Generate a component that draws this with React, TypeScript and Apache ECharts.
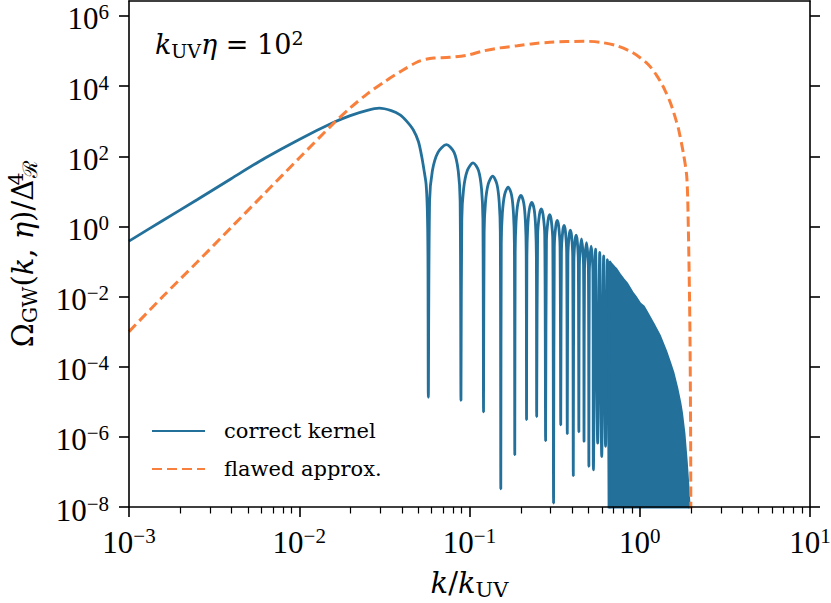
import React, { useEffect, useRef } from 'react';
import * as echarts from 'echarts';

// ---- tick positions ----
const X_MAJOR_TICKS = [1e-3, 1e-2, 1e-1, 1, 10];
const X_MINOR_TICKS = [
  0.002, 0.003, 0.004, 0.005, 0.006, 0.007, 0.008, 0.009,
  0.02, 0.03, 0.04, 0.05, 0.06, 0.07, 0.08, 0.09,
  0.2, 0.3, 0.4, 0.5, 0.6, 0.7, 0.8, 0.9,
  2, 3, 4, 5, 6, 7, 8, 9,
];
const Y_MAJOR_TICKS = [1e-8, 1e-6, 1e-4, 1e-2, 1, 1e2, 1e4, 1e6];

// ---- correct kernel: smooth rise up to the first zero ----
const KERNEL_RISE: [number, number][] = [
  [0.001, 0.38], [0.00158, 1.48], [0.00251, 5.75], [0.00398, 22.9],
  [0.00631, 89], [0.01, 302], [0.01585, 912], [0.01995, 1445],
  [0.0251, 2042], [0.0295, 2344], [0.0347, 1995], [0.0391, 1514],
  [0.0427, 1000], [0.0468, 562], [0.0501, 263], [0.0524, 98],
  [0.0543, 35], [0.0556, 16], [0.0565, 3.2], [0.057, 0.16],
  [0.0573, 1.35e-5],
];

// ---- correct kernel: separated oscillation lobes ----
const KERNEL_LOBES: [number, number][] = [
  [0.0583, 5.4], [0.0605, 38], [0.0653, 129], [0.0732, 214], [0.0812, 129], [0.0859, 38], [0.0881, 5.4], [0.0891, 1.1e-5],
  [0.0901, 1.6], [0.0923, 11.5], [0.0971, 39], [0.105, 65], [0.113, 39], [0.1177, 11.5], [0.1199, 1.6], [0.1209, 5.2e-6],
  [0.1219, 0.68], [0.1241, 4.8], [0.1289, 16.2], [0.1368, 27], [0.1448, 16.2], [0.1495, 4.8], [0.1517, 0.68], [0.1527, 3.3e-8],
  [0.1537, 0.33], [0.1559, 2.3], [0.1607, 7.9], [0.1686, 13.2], [0.1766, 7.9], [0.1813, 2.3], [0.1835, 0.33], [0.1845, 3.1e-7],
  [0.1855, 0.19], [0.1877, 1.35], [0.1925, 4.6], [0.2004, 7.7], [0.2084, 4.6], [0.2131, 1.35], [0.2153, 0.19], [0.2163, 3.1e-6],
  [0.2173, 0.12], [0.2195, 0.85], [0.2243, 2.9], [0.2322, 4.8], [0.2402, 2.9], [0.2449, 0.85], [0.2471, 0.12], [0.2481, 3.8e-6],
  [0.2513, 0.56], [0.2576, 2.19], [0.264, 3.16], [0.2704, 2.19], [0.2767, 0.56], [0.2799, 7.8e-7],
  [0.2831, 0.385], [0.2894, 1.5], [0.2958, 2.16], [0.3022, 1.5], [0.3085, 0.385], [0.3117, 1.3e-8],
  [0.3149, 0.263], [0.3212, 1.02], [0.3276, 1.48], [0.334, 1.02], [0.3403, 0.263], [0.3435, 2.2e-6],
  [0.3467, 0.19], [0.353, 0.74], [0.3594, 1.07], [0.3658, 0.74], [0.3721, 0.19], [0.3753, 1.23e-6],
  [0.3785, 0.138], [0.3848, 0.537], [0.3912, 0.776], [0.3976, 0.537], [0.4039, 0.138], [0.4071, 7.8e-8],
  [0.4103, 0.1], [0.4166, 0.39], [0.423, 0.562], [0.4294, 0.39], [0.4357, 0.1], [0.4389, 1.4e-6],
  [0.4421, 0.078], [0.4548, 0.437], [0.4675, 0.078], [0.4707, 7.4e-7],
  [0.4739, 0.062], [0.4866, 0.347], [0.4993, 0.062], [0.5025, 1.45e-7],
  [0.5057, 0.049], [0.5184, 0.275], [0.5311, 0.049], [0.5343, 1.15e-7],
  [0.5502, 0.224], [0.5661, 6.6e-7],
  [0.582, 0.182], [0.5979, 2.75e-7],
  [0.6138, 0.145], [0.6297, 5.4e-7],
  [0.6456, 0.112], [0.6615, 9e-9],
];

// ---- correct kernel: envelope of the densely packed oscillations ----
const KERNEL_DENSE: [number, number][] = [
  [0.6615, 9e-9], [0.6625, 0.1], [0.6774, 0.087], [0.7092, 0.068], [0.7265, 0.06],
  [0.76, 0.043], [0.8, 0.031], [0.84, 0.0234], [0.9, 0.0132], [0.95, 0.0093],
  [1.0, 0.0063], [1.05, 0.0052], [1.1, 0.0035], [1.2, 0.00166], [1.31, 7.4e-4],
  [1.42, 2.8e-4], [1.5, 1.3e-4], [1.57, 6.6e-5], [1.65, 2.5e-5], [1.72, 9.5e-6],
  [1.76, 4.9e-6], [1.82, 1.26e-6], [1.88, 1.8e-7], [1.92, 4e-8], [1.95, 1.07e-8],
  [1.96, 9e-9],
];

// ---- flawed approximation ----
const FLAWED_APPROX: [number, number][] = [
  [0.001, 1.0e-3], [0.00158, 1.0e-2], [0.00251, 0.095], [0.00398, 0.93],
  [0.00631, 9.1], [0.01, 89], [0.01585, 851], [0.01995, 2400],
  [0.0251, 6000], [0.0316, 13200], [0.0398, 26900], [0.049, 47900],
  [0.0555, 58000], [0.0617, 63000], [0.0767, 66000], [0.0964, 76000],
  [0.12, 1.0e5], [0.151, 1.23e5], [0.191, 1.41e5], [0.237, 1.62e5],
  [0.297, 1.78e5], [0.372, 1.86e5], [0.468, 1.9e5], [0.585, 1.78e5],
  [0.733, 1.41e5], [0.912, 8.9e4], [1.096, 4.6e4], [1.175, 3.2e4],
  [1.259, 2.0e4], [1.334, 1.26e4], [1.4, 8000], [1.507, 3550],
  [1.57, 2000], [1.64, 1000], [1.686, 630], [1.803, 123],
  [1.89, 25], [1.93, 0.8], [1.96, 0.01], [1.975, 4e-4],
  [1.99, 1e-6], [1.996, 5e-9],
];

const FONT = "'DejaVu Serif', serif";
const NUM_FONT = "'Liberation Serif', serif";
const BLUE = '#23709b';
const ORANGE = '#f8803c';

function powerLabel(v: number): string {
  const e = Math.round(Math.log10(v));
  const es = e < 0 ? '\u2212' + String(-e) : String(e);
  return `{b|10}{s|${es}}`;
}

const TICK_RICH = {
  b: { fontFamily: NUM_FONT, fontSize: 31, lineHeight: 34, color: '#000' },
  s: { fontFamily: NUM_FONT, fontSize: 21, lineHeight: 21, verticalAlign: 'top', color: '#000' },
};

export default function App() {
  const ref = useRef<HTMLDivElement>(null);

  useEffect(() => {
    const chart = echarts.init(ref.current as HTMLDivElement, null, { renderer: 'svg' });
    const axisLineStyle = { color: '#000', width: 1.6 };
    chart.setOption({
      animation: false,
      backgroundColor: '#fff',
      grid: { left: 129, right: 21, top: 1, bottom: 96, outerBoundsMode: 'none' },
      legend: {
        orient: 'vertical',
        left: 151,
        top: 419,
        padding: 0,
        itemWidth: 53,
        itemHeight: 14,
        itemGap: 14,
        itemStyle: { opacity: 0 },
        data: ['correct kernel', 'flawed approx.'],
        textStyle: {
          fontFamily: FONT,
          fontSize: 21,
          lineHeight: 24,
          color: '#000',
          padding: [0, 0, 0, 14],
        },
      },
      graphic: [
        {
          type: 'text',
          left: 155,
          top: 28,
          style: {
            text: '{i|k}{sub|UV}{i|\u03b7}{m| = 10}{sup|2}',
            fill: '#000',
            rich: {
              i: { fontFamily: FONT, fontStyle: 'italic', fontSize: 27, lineHeight: 32 },
              m: { fontFamily: FONT, fontSize: 27, lineHeight: 32 },
              sub: { fontFamily: FONT, fontSize: 19, lineHeight: 19, verticalAlign: 'bottom' },
              sup: { fontFamily: FONT, fontSize: 19, lineHeight: 19, verticalAlign: 'top' },
            },
          },
        },
      ],
      xAxis: [
        {
          type: 'log',
          min: 1e-3,
          max: 10,
          position: 'bottom',
          z: 10,
          axisLine: { show: true, lineStyle: axisLineStyle },
          axisTick: { show: true, length: 10, lineStyle: axisLineStyle, customValues: X_MAJOR_TICKS },
          axisLabel: {
            show: true,
            margin: 18,
            customValues: X_MAJOR_TICKS,
            formatter: powerLabel,
            rich: TICK_RICH,
          },
          minorTick: { show: false },
          splitLine: { show: false },
          name: '{i|k}{m|/}{i|k}{sub|UV}',
          nameLocation: 'middle',
          nameGap: 59,
          nameTextStyle: {
            color: '#000',
            rich: {
              i: { fontFamily: FONT, fontStyle: 'italic', fontSize: 29, lineHeight: 34 },
              m: { fontFamily: FONT, fontSize: 29, lineHeight: 34 },
              sub: { fontFamily: FONT, fontSize: 21, lineHeight: 21, verticalAlign: 'bottom' },
            },
          },
        },
        {
          type: 'log',
          min: 1e-3,
          max: 10,
          position: 'bottom',
          z: 10,
          axisLine: { show: false },
          axisTick: { show: true, length: 6.5, lineStyle: { color: '#000', width: 1.2 }, customValues: X_MINOR_TICKS },
          axisLabel: { show: false },
          splitLine: { show: false },
        },
        {
          type: 'log',
          min: 1e-3,
          max: 10,
          position: 'top',
          z: 10,
          axisLine: { show: true, lineStyle: axisLineStyle },
          axisTick: { show: false },
          axisLabel: { show: false },
          splitLine: { show: false },
        },
      ],
      yAxis: [
        {
          type: 'log',
          min: 1e-8,
          max: 2.67e6,
          position: 'left',
          z: 10,
          axisLine: { show: true, lineStyle: axisLineStyle },
          axisTick: { show: true, length: 10, lineStyle: axisLineStyle, customValues: Y_MAJOR_TICKS },
          axisLabel: {
            show: true,
            margin: 20,
            padding: [6, 0, 0, 0],
            customValues: Y_MAJOR_TICKS,
            formatter: powerLabel,
            rich: TICK_RICH,
          },
          splitLine: { show: false },
          name: '{o|\u03a9}{sub|GW}{m|(}{i|k}{m|, }{i|\u03b7}{m|)/\u0394}{sup|4}{sub|\u211b}',
          nameLocation: 'middle',
          nameGap: 89,
          nameTextStyle: {
            color: '#000',
            rich: {
              o: { fontFamily: FONT, fontSize: 29, lineHeight: 34 },
              m: { fontFamily: FONT, fontSize: 29, lineHeight: 34 },
              i: { fontFamily: FONT, fontStyle: 'italic', fontSize: 29, lineHeight: 34 },
              sub: { fontFamily: FONT, fontSize: 20, lineHeight: 20, verticalAlign: 'bottom' },
              sup: { fontFamily: FONT, fontSize: 20, lineHeight: 20, verticalAlign: 'top', width: 2 },
            },
          },
        },
        {
          type: 'log',
          min: 1e-8,
          max: 2.67e6,
          position: 'right',
          z: 10,
          axisLine: { show: true, lineStyle: axisLineStyle },
          axisTick: { show: true, length: 10, lineStyle: axisLineStyle, customValues: Y_MAJOR_TICKS },
          axisLabel: { show: false },
          splitLine: { show: false },
        },
      ],
      series: [
        {
          name: 'correct kernel',
          type: 'line',
          xAxisIndex: 0,
          yAxisIndex: 0,
          symbol: 'none',
          smooth: 0.3,
          data: [...KERNEL_RISE, ...KERNEL_LOBES],
          lineStyle: { color: BLUE, width: 2.8 },
          itemStyle: { color: BLUE },
          z: 2,
        },
        {
          name: 'correct kernel',
          type: 'line',
          xAxisIndex: 0,
          yAxisIndex: 0,
          symbol: 'none',
          data: KERNEL_DENSE,
          lineStyle: { color: BLUE, width: 2.8 },
          itemStyle: { color: BLUE },
          areaStyle: { color: BLUE, opacity: 1, origin: 1e-9 },
          z: 2,
        },
        {
          name: 'flawed approx.',
          type: 'line',
          xAxisIndex: 0,
          yAxisIndex: 0,
          symbol: 'none',
          smooth: 0.3,
          data: FLAWED_APPROX,
          lineStyle: { color: ORANGE, width: 3, type: [10, 5], cap: 'butt' },
          itemStyle: { color: ORANGE },
          z: 3,
        },
      ],
    });
    return () => chart.dispose();
  }, []);

  return (
    <div
      ref={ref}
      style={{ position: 'fixed', left: 0, top: 0, width: 831, height: 603, background: '#fff' }}
    />
  );
}
